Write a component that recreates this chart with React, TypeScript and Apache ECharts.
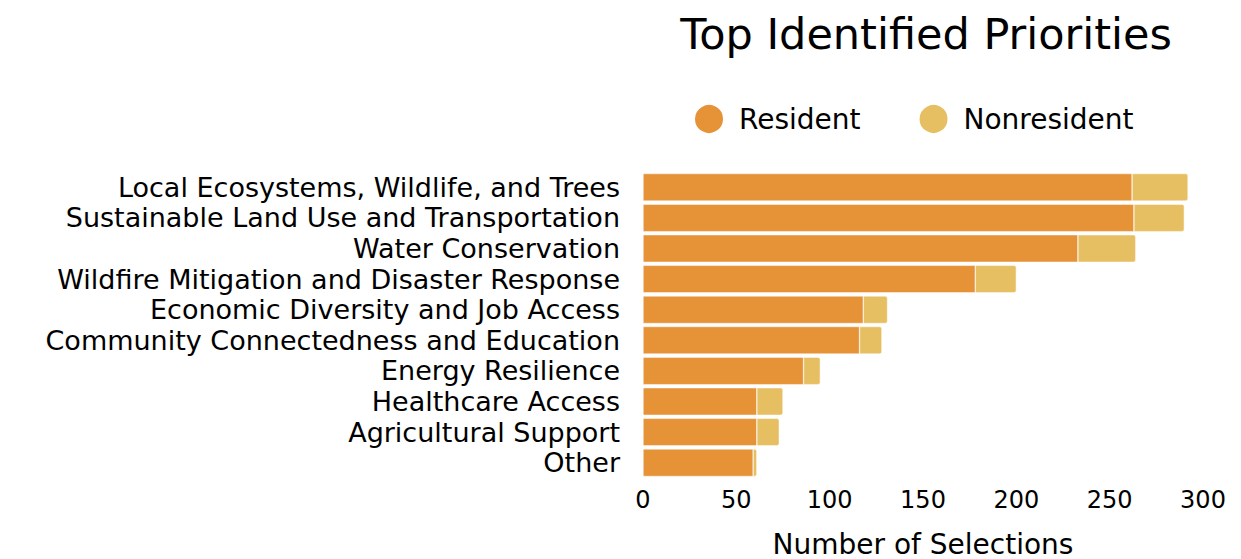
import React, { useEffect, useRef } from "react";
import * as echarts from "echarts";

const categories = [
  "Local Ecosystems, Wildlife, and Trees",
  "Sustainable Land Use and Transportation",
  "Water Conservation",
  "Wildfire Mitigation and Disaster Response",
  "Economic Diversity and Job Access",
  "Community Connectedness and Education",
  "Energy Resilience",
  "Healthcare Access",
  "Agricultural Support",
  "Other",
];
const resident = [262, 263, 233, 178, 118, 116, 86, 61, 61, 59];
const nonresident = [30, 27, 31, 22, 13, 12, 9, 14, 12, 2];
const xTicks = [0, 50, 100, 150, 200, 250, 300];

const FONT = "'DejaVu Sans', sans-serif";

export default function App() {
  const ref = useRef<HTMLDivElement>(null);
  useEffect(() => {
    if (!ref.current) return;
    const chart = echarts.init(ref.current, undefined, { renderer: "svg" });
    chart.setOption({
      animation: false,
      textStyle: { fontFamily: FONT, color: "#000" },
      title: {
        text: "Top Identified Priorities",
        left: 921,
        top: 7,
        textAlign: "center",
        textStyle: { fontSize: 43, fontWeight: "normal", color: "#000", fontFamily: FONT },
      },
      legend: {
        top: 98,
        left: 688,
        icon: "circle",
        itemWidth: 30,
        itemHeight: 30,
        itemGap: 57,
        textStyle: { fontSize: 28, color: "#000", fontFamily: FONT, padding: [0, 0, 0, 10] },
        data: ["Resident", "Nonresident"],
      },
      grid: { left: 643, right: 38, top: 172, bottom: 81, outerBoundsMode: "none", containLabel: false },
      xAxis: {
        type: "value",
        min: xTicks[0],
        max: xTicks[xTicks.length - 1],
        interval: 50,
        axisLine: { show: false },
        axisTick: { show: false },
        splitLine: { show: false },
        axisLabel: { fontSize: 24, color: "#000", margin: 10, fontFamily: FONT },
        name: "Number of Selections",
        nameLocation: "middle",
        nameGap: 52,
        nameTextStyle: { fontSize: 28, color: "#000", fontFamily: FONT },
      },
      yAxis: {
        type: "category",
        data: categories,
        inverse: true,
        axisLine: { show: false },
        axisTick: { show: false },
        axisLabel: { fontSize: 27, lineHeight: 28, color: "#000", margin: 23, interval: 0, fontFamily: FONT },
      },
      series: [
        {
          name: "Resident",
          type: "bar",
          stack: "total",
          data: resident,
          barCategoryGap: "10%",
          itemStyle: { color: "#E69236", borderColor: "#fff", borderWidth: 0.5 },
        },
        {
          name: "Nonresident",
          type: "bar",
          stack: "total",
          data: nonresident,
          barCategoryGap: "10%",
          itemStyle: { color: "#E7BF63", borderRadius: [0, 2, 2, 0], borderColor: "#fff", borderWidth: 0.5 },
        },
      ],
    });
    return () => chart.dispose();
  }, []);
  return (
    <div
      ref={ref}
      style={{ position: "fixed", left: 0, top: 0, width: 1241, height: 559, background: "#fff" }}
    />
  );
}
